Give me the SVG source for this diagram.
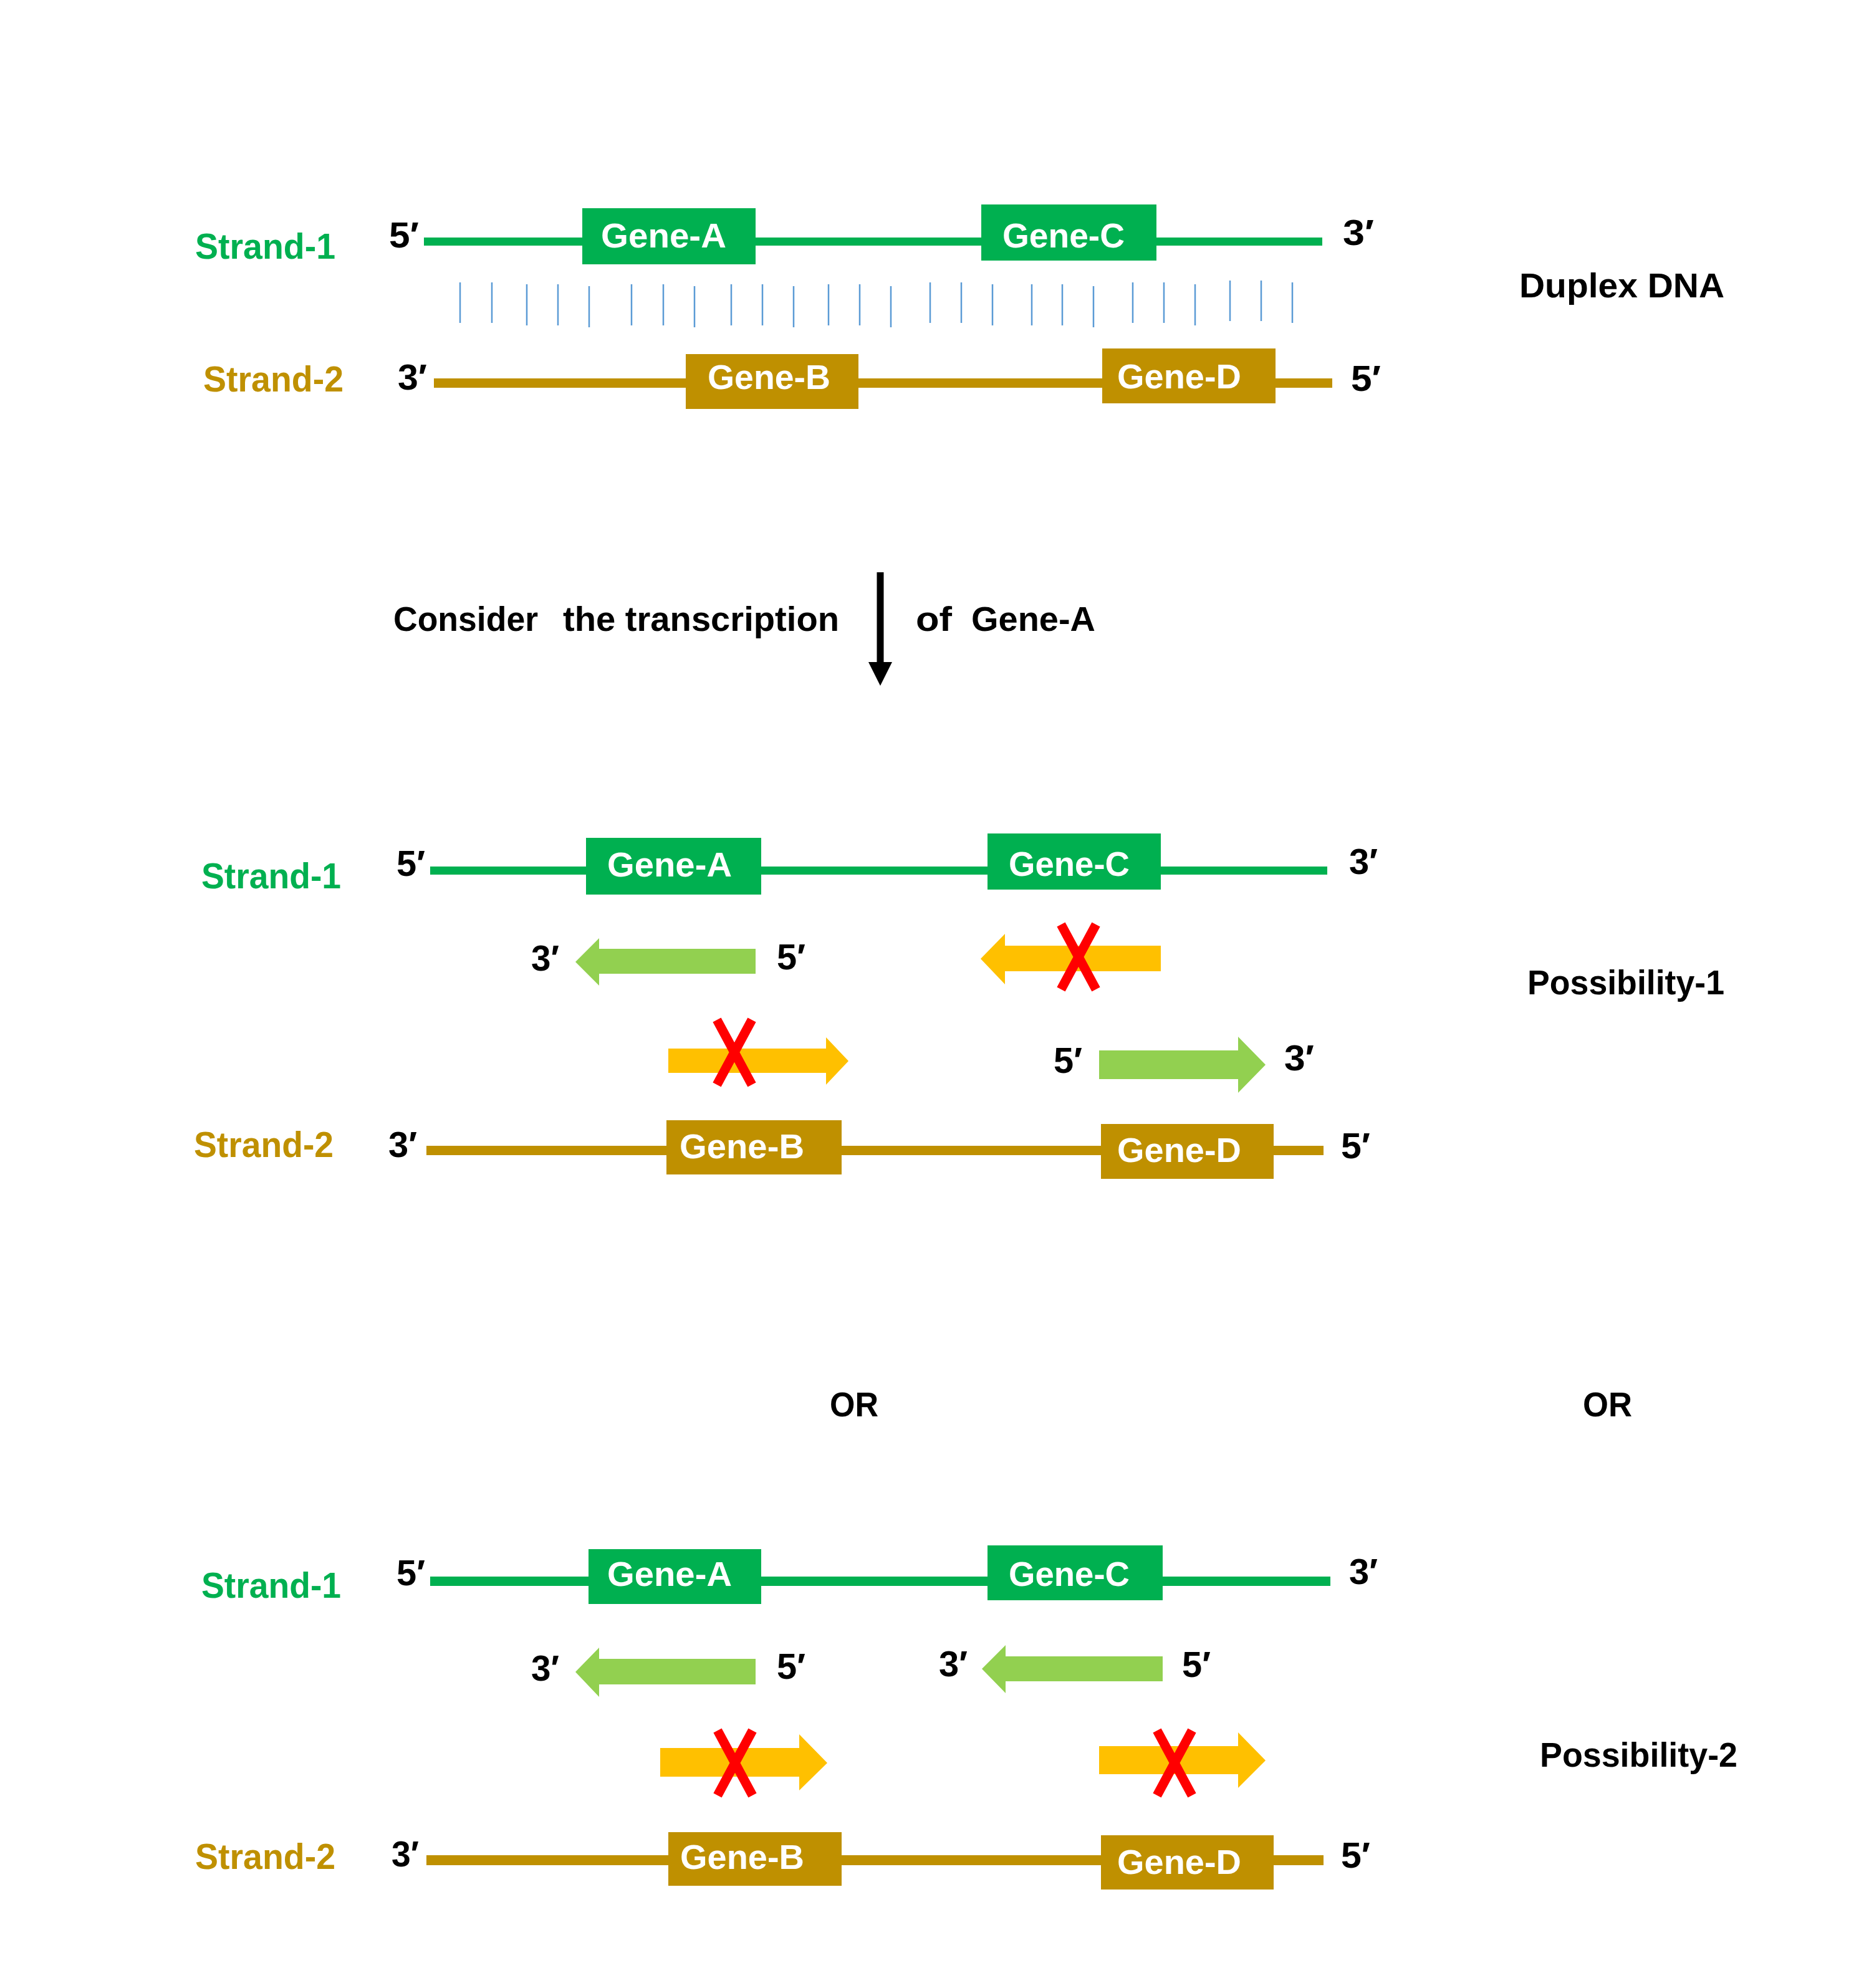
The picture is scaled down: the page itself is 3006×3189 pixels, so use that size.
<svg xmlns="http://www.w3.org/2000/svg" xmlns:xlink="http://www.w3.org/1999/xlink" width="3006" height="3189" viewBox="0 0 3006 3189">
<style>
text{font-family:"Liberation Sans",Arial,sans-serif;font-weight:bold;font-size:58px;}
.k{fill:#000}
.sg{fill:#00B050}
.sy{fill:#BF9000}
.w{fill:#fff;font-size:56px}
.t{font-size:56px}
.green{fill:#00B050}
.gold{fill:#BF9000}
.lg{fill:#92D050}
.or{fill:#FFC000}
.x{stroke:#FF0000;stroke-width:15;fill:none}
.bp{stroke:#5B9BD5;stroke-width:2.5}
</style>
<defs>
  <path id="xmark" class="x" d="M-28,-52 L28,52 M28,-52 L-28,52"/>
</defs>
<rect width="3006" height="3189" fill="#fff"/>

<!-- Section 1: Duplex DNA -->
<g id="duplex">
  <g id="d-strand1">
    <text class="sg" x="313" y="415" textLength="225" lengthAdjust="spacingAndGlyphs">Strand-1</text>
    <text class="k" x="624" y="397" textLength="48" lengthAdjust="spacingAndGlyphs">5′</text>
    <rect class="green" x="680" y="381" width="1441" height="13"/>
    <text class="k" x="2154" y="393" textLength="50" lengthAdjust="spacingAndGlyphs">3′</text>
  </g>
  <g id="d-geneA"><rect class="green" x="934" y="334" width="278" height="90"/><text class="w" x="964" y="397" textLength="201" lengthAdjust="spacingAndGlyphs">Gene-A</text></g>
  <g id="d-geneC"><rect class="green" x="1574" y="328" width="281" height="90"/><text class="w" x="1608" y="397" textLength="196" lengthAdjust="spacingAndGlyphs">Gene-C</text></g>
  <g id="d-basepairs" class="bp">
    <line x1="738" y1="453" x2="738" y2="518"/>
    <line x1="789" y1="453" x2="789" y2="518"/>
    <line x1="845" y1="456" x2="845" y2="522"/>
    <line x1="895" y1="456" x2="895" y2="522"/>
    <line x1="945" y1="459" x2="945" y2="525"/>
    <line x1="1013" y1="456" x2="1013" y2="522"/>
    <line x1="1064" y1="456" x2="1064" y2="522"/>
    <line x1="1114" y1="459" x2="1114" y2="525"/>
    <line x1="1173" y1="456" x2="1173" y2="522"/>
    <line x1="1223" y1="456" x2="1223" y2="522"/>
    <line x1="1273" y1="459" x2="1273" y2="525"/>
    <line x1="1329" y1="456" x2="1329" y2="522"/>
    <line x1="1379" y1="456" x2="1379" y2="522"/>
    <line x1="1429" y1="459" x2="1429" y2="525"/>
    <line x1="1492" y1="453" x2="1492" y2="518"/>
    <line x1="1542" y1="453" x2="1542" y2="518"/>
    <line x1="1592" y1="456" x2="1592" y2="522"/>
    <line x1="1655" y1="456" x2="1655" y2="522"/>
    <line x1="1704" y1="456" x2="1704" y2="522"/>
    <line x1="1754" y1="459" x2="1754" y2="525"/>
    <line x1="1817" y1="453" x2="1817" y2="518"/>
    <line x1="1867" y1="453" x2="1867" y2="518"/>
    <line x1="1917" y1="456" x2="1917" y2="522"/>
    <line x1="1973" y1="450" x2="1973" y2="515"/>
    <line x1="2023" y1="450" x2="2023" y2="515"/>
    <line x1="2073" y1="453" x2="2073" y2="518"/>
  </g>
  <g id="d-strand2">
    <text class="sy" x="326" y="628" textLength="225" lengthAdjust="spacingAndGlyphs">Strand-2</text>
    <text class="k" x="638" y="625" textLength="47" lengthAdjust="spacingAndGlyphs">3′</text>
    <rect class="gold" x="696" y="607" width="1441" height="15"/>
    <text class="k" x="2167" y="627" textLength="48" lengthAdjust="spacingAndGlyphs">5′</text>
  </g>
  <g id="d-geneB"><rect class="gold" x="1100" y="568" width="277" height="88"/><text class="w" x="1135" y="624" textLength="197" lengthAdjust="spacingAndGlyphs">Gene-B</text></g>
  <g id="d-geneD"><rect class="gold" x="1768" y="559" width="278" height="88"/><text class="w" x="1792" y="623" textLength="199" lengthAdjust="spacingAndGlyphs">Gene-D</text></g>
  <text id="duplex-label" class="k t" x="2437" y="477" textLength="329" lengthAdjust="spacingAndGlyphs">Duplex DNA</text>
</g>

<!-- Transcription step -->
<g id="step-label">
  <text class="k t" x="631" y="1012" textLength="232" lengthAdjust="spacingAndGlyphs">Consider</text>
  <text class="k t" x="903" y="1012" textLength="443" lengthAdjust="spacingAndGlyphs">the transcription</text>
  <text class="k t" x="1469" y="1012" textLength="58" lengthAdjust="spacingAndGlyphs">of</text>
  <text class="k t" x="1558" y="1012" textLength="199" lengthAdjust="spacingAndGlyphs">Gene-A</text>
</g>
<g id="connectors">
  <line x1="1412" y1="918" x2="1412" y2="1066" stroke="#000" stroke-width="11"/>
  <polygon points="1393,1062 1431,1062 1412,1100" fill="#000"/>
</g>

<!-- Possibility-1 -->
<g id="p1">
  <g id="p1-strand1">
    <text class="sg" x="323" y="1425" textLength="224" lengthAdjust="spacingAndGlyphs">Strand-1</text>
    <text class="k" x="636" y="1405" textLength="46" lengthAdjust="spacingAndGlyphs">5′</text>
    <rect class="green" x="690" y="1390" width="1439" height="13"/>
    <text class="k" x="2164" y="1402" textLength="46" lengthAdjust="spacingAndGlyphs">3′</text>
  </g>
  <g id="p1-geneA"><rect class="green" x="940" y="1344" width="281" height="91"/><text class="w" x="974" y="1406" textLength="200" lengthAdjust="spacingAndGlyphs">Gene-A</text></g>
  <g id="p1-geneC"><rect class="green" x="1584" y="1337" width="278" height="90"/><text class="w" x="1618" y="1405" textLength="194" lengthAdjust="spacingAndGlyphs">Gene-C</text></g>
  <g id="p1-rnaA">
    <polygon class="lg" points="923,1543 961,1505 961,1522 1212,1522 1212,1562 961,1562 961,1581"/>
    <text class="k" x="852" y="1557" textLength="45" lengthAdjust="spacingAndGlyphs">3′</text>
    <text class="k" x="1246" y="1555" textLength="46" lengthAdjust="spacingAndGlyphs">5′</text>
  </g>
  <g id="p1-rnaC">
    <polygon class="or" points="1573,1538 1612,1498 1612,1517 1862,1517 1862,1558 1612,1558 1612,1579"/>
    <use xlink:href="#xmark" href="#xmark" x="1730" y="1535"/>
  </g>
  <g id="p1-rnaB">
    <polygon class="or" points="1072,1682 1325,1682 1325,1664 1361,1702 1325,1740 1325,1721 1072,1721"/>
    <use xlink:href="#xmark" href="#xmark" x="1178" y="1688"/>
  </g>
  <g id="p1-rnaD">
    <polygon class="lg" points="1763,1685 1986,1685 1986,1663 2030,1708 1986,1753 1986,1731 1763,1731"/>
    <text class="k" x="1690" y="1721" textLength="46" lengthAdjust="spacingAndGlyphs">5′</text>
    <text class="k" x="2060" y="1717" textLength="48" lengthAdjust="spacingAndGlyphs">3′</text>
  </g>
  <g id="p1-strand2">
    <text class="sy" x="311" y="1856" textLength="224" lengthAdjust="spacingAndGlyphs">Strand-2</text>
    <text class="k" x="623" y="1856" textLength="46" lengthAdjust="spacingAndGlyphs">3′</text>
    <rect class="gold" x="684" y="1838" width="1439" height="15"/>
    <text class="k" x="2151" y="1858" textLength="47" lengthAdjust="spacingAndGlyphs">5′</text>
  </g>
  <g id="p1-geneB"><rect class="gold" x="1069" y="1797" width="281" height="87"/><text class="w" x="1090" y="1858" textLength="200" lengthAdjust="spacingAndGlyphs">Gene-B</text></g>
  <g id="p1-geneD"><rect class="gold" x="1766" y="1803" width="277" height="88"/><text class="w" x="1792" y="1864" textLength="199" lengthAdjust="spacingAndGlyphs">Gene-D</text></g>
  <text id="p1-label" class="k t" x="2450" y="1595" textLength="316" lengthAdjust="spacingAndGlyphs">Possibility-1</text>
</g>

<g id="or-labels">
  <text class="k t" x="1331" y="2272" textLength="78" lengthAdjust="spacingAndGlyphs">OR</text>
  <text class="k t" x="2539" y="2272" textLength="79" lengthAdjust="spacingAndGlyphs">OR</text>
</g>

<!-- Possibility-2 -->
<g id="p2">
  <g id="p2-strand1">
    <text class="sg" x="323" y="2563" textLength="224" lengthAdjust="spacingAndGlyphs">Strand-1</text>
    <text class="k" x="636" y="2543" textLength="46" lengthAdjust="spacingAndGlyphs">5′</text>
    <rect class="green" x="690" y="2529" width="1444" height="15"/>
    <text class="k" x="2164" y="2541" textLength="46" lengthAdjust="spacingAndGlyphs">3′</text>
  </g>
  <g id="p2-geneA"><rect class="green" x="944" y="2485" width="277" height="88"/><text class="w" x="974" y="2544" textLength="200" lengthAdjust="spacingAndGlyphs">Gene-A</text></g>
  <g id="p2-geneC"><rect class="green" x="1584" y="2479" width="281" height="88"/><text class="w" x="1618" y="2544" textLength="194" lengthAdjust="spacingAndGlyphs">Gene-C</text></g>
  <g id="p2-rnaA">
    <polygon class="lg" points="923,2682 961,2643 961,2661 1212,2661 1212,2702 961,2702 961,2722"/>
    <text class="k" x="852" y="2696" textLength="45" lengthAdjust="spacingAndGlyphs">3′</text>
    <text class="k" x="1246" y="2693" textLength="46" lengthAdjust="spacingAndGlyphs">5′</text>
  </g>
  <g id="p2-rnaC">
    <polygon class="lg" points="1575,2677 1613,2639 1613,2657 1865,2657 1865,2697 1613,2697 1613,2716"/>
    <text class="k" x="1506" y="2689" textLength="46" lengthAdjust="spacingAndGlyphs">3′</text>
    <text class="k" x="1896" y="2690" textLength="46" lengthAdjust="spacingAndGlyphs">5′</text>
  </g>
  <g id="p2-rnaB">
    <polygon class="or" points="1059,2804 1282,2804 1282,2782 1327,2828 1282,2872 1282,2850 1059,2850"/>
    <use xlink:href="#xmark" href="#xmark" x="1179" y="2828"/>
  </g>
  <g id="p2-rnaD">
    <polygon class="or" points="1763,2801 1986,2801 1986,2779 2030,2824 1986,2868 1986,2846 1763,2846"/>
    <use xlink:href="#xmark" href="#xmark" x="1884" y="2828"/>
  </g>
  <g id="p2-strand2">
    <text class="sy" x="313" y="2998" textLength="225" lengthAdjust="spacingAndGlyphs">Strand-2</text>
    <text class="k" x="628" y="2994" textLength="44" lengthAdjust="spacingAndGlyphs">3′</text>
    <rect class="gold" x="684" y="2976" width="1439" height="16"/>
    <text class="k" x="2151" y="2996" textLength="47" lengthAdjust="spacingAndGlyphs">5′</text>
  </g>
  <g id="p2-geneB"><rect class="gold" x="1072" y="2939" width="278" height="86"/><text class="w" x="1091" y="2998" textLength="199" lengthAdjust="spacingAndGlyphs">Gene-B</text></g>
  <g id="p2-geneD"><rect class="gold" x="1766" y="2944" width="277" height="87"/><text class="w" x="1792" y="3006" textLength="199" lengthAdjust="spacingAndGlyphs">Gene-D</text></g>
  <text id="p2-label" class="k t" x="2470" y="2834" textLength="317" lengthAdjust="spacingAndGlyphs">Possibility-2</text>
</g>
</svg>
